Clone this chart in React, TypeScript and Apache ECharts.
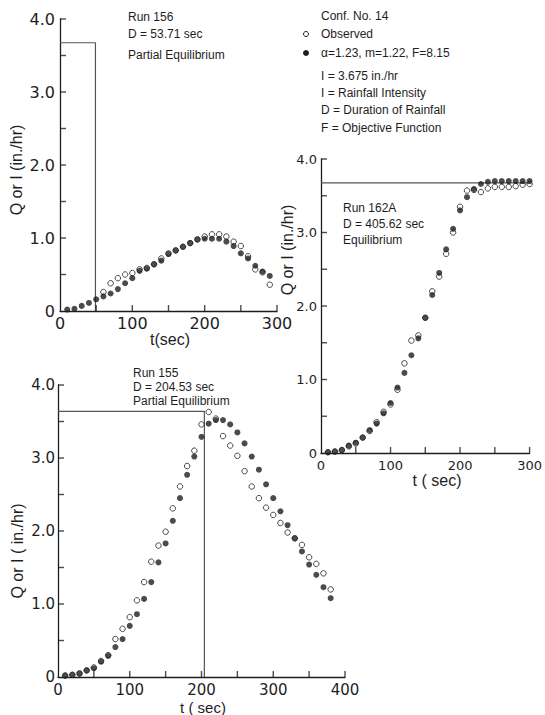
import React, { useEffect, useRef } from "react";
import * as echarts from "echarts";

// ---------- Data ----------
// Run 156 (top-left)
const run156Time = [10, 20, 30, 40, 50, 60, 70, 80, 90, 100, 110, 120, 130, 140, 150, 160, 170, 180, 190, 200, 210, 220, 230, 240, 250, 260, 270, 280, 290];
const run156Computed = [0.02, 0.03, 0.07, 0.11, 0.16, 0.2, 0.24, 0.3, 0.38, 0.45, 0.55, 0.58, 0.64, 0.69, 0.78, 0.83, 0.88, 0.93, 0.98, 0.99, 0.99, 0.99, 0.95, 0.89, 0.79, 0.72, 0.62, 0.54, 0.48];
const run156ObsTime = [60, 70, 80, 90, 100, 110, 120, 130, 140, 150, 160, 170, 180, 190, 200, 210, 220, 230, 240, 250, 260, 270, 280, 290];
const run156Observed = [0.26, 0.38, 0.45, 0.5, 0.52, 0.57, 0.59, 0.64, 0.72, 0.79, 0.83, 0.88, 0.93, 0.98, 1.02, 1.05, 1.05, 1.02, 0.95, 0.89, 0.75, 0.57, 0.53, 0.36];
const run156RainT = [0, 49, 49];
const run156RainI = [3.675, 3.675, 0];

// Run 162A (right)
const run162Time = [10, 20, 30, 40, 50, 60, 70, 80, 90, 100, 110, 120, 130, 140, 150, 160, 170, 180, 190, 200, 210, 220, 230, 240, 250, 260, 270, 280, 290, 300];
const run162Computed = [0.01, 0.02, 0.04, 0.1, 0.14, 0.21, 0.31, 0.4, 0.54, 0.68, 0.89, 1.09, 1.33, 1.56, 1.84, 2.15, 2.45, 2.77, 3.05, 3.3, 3.48, 3.59, 3.66, 3.69, 3.7, 3.7, 3.7, 3.7, 3.7, 3.7];
const run162Observed = [0.01, 0.02, 0.04, 0.09, 0.13, 0.21, 0.3, 0.42, 0.56, 0.66, 0.86, 1.22, 1.53, 1.6, 1.84, 2.2, 2.4, 2.71, 3.0, 3.35, 3.57, 3.58, 3.55, 3.6, 3.62, 3.62, 3.62, 3.63, 3.65, 3.66];
const run162RainT = [0, 300];
const run162RainI = [3.675, 3.675];

// Run 155 (bottom-left)
const run155Time = [10, 20, 30, 40, 50, 60, 70, 80, 90, 100, 110, 120, 130, 140, 150, 160, 170, 180, 190, 200, 210, 220, 230, 240, 250, 260, 270, 280, 290, 300, 310, 320, 330, 340, 350, 360, 370, 380];
const run155Computed = [0.02, 0.03, 0.045, 0.09, 0.12, 0.21, 0.29, 0.41, 0.52, 0.7, 0.86, 1.07, 1.3, 1.57, 1.83, 2.14, 2.45, 2.77, 3.02, 3.29, 3.47, 3.52, 3.52, 3.46, 3.35, 3.2, 3.02, 2.84, 2.64, 2.45, 2.27, 2.08, 1.9, 1.72, 1.54, 1.4, 1.23, 1.08];
const run155Observed = [0.02, 0.03, 0.05, 0.09, 0.13, 0.22, 0.3, 0.52, 0.66, 0.82, 1.05, 1.3, 1.58, 1.8, 1.99, 2.31, 2.61, 2.89, 3.1, 3.46, 3.63, 3.54, 3.3, 3.17, 3.03, 2.82, 2.61, 2.45, 2.32, 2.22, 2.11, 1.98, 1.9, 1.81, 1.64, 1.55, 1.42, 1.2];
const run155RainT = [0, 204, 204];
const run155RainI = [3.64, 3.64, 0];

// Axis ranges and tick positions
const xMax = [300, 300, 400];
const yTickLabels = ["0", "1.0", "2.0", "3.0", "4.0"];
const yTickValues = [0.5, 1, 1.5, 2, 2.5, 3, 3.5, 4];
const xTickValues300 = [50, 100, 150, 200, 250, 300];
const xTickValues400 = [50, 100, 150, 200, 250, 300, 350, 400];

const legendObserved = "Observed";
const legendComputed = "α=1.23, m=1.22, F=8.15";
const noteLines = [
  "Conf. No. 14",
  "I = 3.675 in./hr",
  "I = Rainfall Intensity",
  "D = Duration of Rainfall",
  "F = Objective Function",
];
const run156Notes = ["Run 156", "D = 53.71 sec", "Partial Equilibrium"];
const run162Notes = ["Run 162A", "D = 405.62 sec", "Equilibrium"];
const run155Notes = ["Run 155", "D = 204.53 sec", "Partial Equilibrium"];

// ---------- helpers ----------
const zip = (a: number[], b: number[]) => a.map((v, i) => [v, b[i]]);
const INK = "#1e1e1e";
const SANS = '"Liberation Sans", Arial, sans-serif';
const TICKFONT = '"DejaVu Sans", sans-serif';

export default function App() {
  const ref = useRef<HTMLDivElement>(null);

  useEffect(() => {
    document.body.style.margin = "0";
    if (!ref.current) return;
    const chart = echarts.init(ref.current, undefined, { renderer: "svg" });

    const grids = [
      { left: 60, top: 19, width: 217, height: 292 },
      { left: 321, top: 159, width: 218, height: 294 },
      { left: 58, top: 385, width: 287, height: 292 },
    ];
    const tickFont = [16, 13, 15];
    const yLabelMargin = [5, 4, 3];
    const xLabelMargin = [4, 6, 5];
    const xTicks = [xTickValues300, xTickValues300, xTickValues400];

    const xAxes = grids.map((_, i) => ({
      type: "value",
      gridIndex: i,
      min: 0,
      max: xMax[i],
      interval: 50,
      axisLine: { show: true, onZero: false, lineStyle: { color: INK, width: 1.3 } },
      axisTick: { show: false },
      axisLabel: {
        show: true,
        margin: xLabelMargin[i],
        color: INK,
        fontFamily: TICKFONT,
        fontSize: tickFont[i],
        formatter: (v: number) => (v % 100 === 0 ? String(v) : ""),
      },
      splitLine: { show: false },
    }));

    const yAxes = grids.map((_, i) => ({
      type: "value",
      gridIndex: i,
      min: 0,
      max: 4,
      interval: 0.5,
      axisLine: { show: true, onZero: false, lineStyle: { color: INK, width: 1.3 } },
      axisTick: { show: false },
      axisLabel: {
        show: true,
        margin: yLabelMargin[i],
        color: INK,
        fontFamily: TICKFONT,
        fontSize: tickFont[i],
        formatter: (v: number) => (Math.abs(v - Math.round(v)) < 1e-9 ? yTickLabels[Math.round(v)] : ""),
      },
      splitLine: { show: false },
    }));

    const panels = [
      { rain: zip(run156RainT, run156RainI), comp: zip(run156Time, run156Computed), obs: zip(run156ObsTime, run156Observed) },
      { rain: zip(run162RainT, run162RainI), comp: zip(run162Time, run162Computed), obs: zip(run162Time, run162Observed) },
      { rain: zip(run155RainT, run155RainI), comp: zip(run155Time, run155Computed), obs: zip(run155Time, run155Observed) },
    ];

    const series: any[] = [];
    panels.forEach((p, i) => {
      // inward tick marks placed on the axes through the axis scales
      series.push({
        type: "scatter",
        xAxisIndex: i,
        yAxisIndex: i,
        data: yTickValues.map((v) => [0, v]),
        symbol: "rect",
        symbolSize: [6, 1.4],
        symbolOffset: [3, 0],
        itemStyle: { color: INK },
        silent: true,
        clip: false,
        z: 5,
      });
      series.push({
        type: "scatter",
        xAxisIndex: i,
        yAxisIndex: i,
        data: xTicks[i].map((v) => [v, 0]),
        symbol: "rect",
        symbolSize: [1.4, 6],
        symbolOffset: [0, -3],
        itemStyle: { color: INK },
        silent: true,
        clip: false,
        z: 5,
      });
      series.push({
        type: "line",
        xAxisIndex: i,
        yAxisIndex: i,
        data: p.rain,
        symbol: "none",
        silent: true,
        lineStyle: { color: "#555", width: 1.2 },
        z: 1,
      });
      series.push({
        type: "scatter",
        name: legendComputed,
        xAxisIndex: i,
        yAxisIndex: i,
        data: p.comp,
        symbol: "circle",
        symbolSize: 6,
        itemStyle: { color: INK },
        z: 3,
      });
      series.push({
        type: "scatter",
        name: legendObserved,
        xAxisIndex: i,
        yAxisIndex: i,
        data: p.obs,
        symbol: "circle",
        symbolSize: 5.5,
        itemStyle: { color: "rgba(255,255,255,0)", borderColor: INK, borderWidth: 1 },
        z: 4,
      });
    });

    const txt = (text: string, x: number, y: number, size: number, extra: any = {}) => ({
      type: "text",
      x,
      y,
      silent: true,
      ...extra,
      style: {
        text,
        fill: INK,
        font: `${size}px ${SANS}`,
        align: extra.align || "left",
        verticalAlign: "middle",
      },
    });

    const graphic: any[] = [
      // legend/notes block
      txt(noteLines[0], 321, 16, 12),
      { type: "circle", shape: { cx: 306, cy: 34, r: 2.5 }, style: { fill: "#fff", stroke: INK, lineWidth: 1 }, silent: true },
      txt(legendObserved, 321, 34, 12),
      { type: "circle", shape: { cx: 306, cy: 53, r: 3 }, style: { fill: INK }, silent: true },
      txt(legendComputed, 321, 53, 12),
      txt(noteLines[1], 321, 76, 12),
      txt(noteLines[2], 321, 93, 12),
      txt(noteLines[3], 321, 110, 12),
      txt(noteLines[4], 321, 128, 12),
      // run annotations
      txt(run156Notes[0], 128, 17, 12),
      txt(run156Notes[1], 128, 34, 12),
      txt(run156Notes[2], 128, 55, 12),
      txt(run162Notes[0], 343, 208, 12),
      txt(run162Notes[1], 343, 224, 12),
      txt(run162Notes[2], 343, 240, 12),
      txt(run155Notes[0], 133, 373, 12),
      txt(run155Notes[1], 133, 387, 12),
      txt(run155Notes[2], 133, 401, 12),
      // axis titles
      txt("Q or I (in./hr)", 16, 170, 16, { rotation: Math.PI / 2, align: "center" }),
      txt("Q or I (in./hr)", 287, 250, 16, { rotation: Math.PI / 2, align: "center" }),
      txt("Q or I ( in./hr)", 17, 551, 16, { rotation: Math.PI / 2, align: "center" }),
      txt("t(sec)", 170, 339, 16, { align: "center" }),
      txt("t ( sec)", 437, 480, 16, { align: "center" }),
      txt("t ( sec)", 203, 707, 15, { align: "center" }),
    ];

    chart.setOption({
      animation: false,
      backgroundColor: "#fff",
      grid: grids,
      xAxis: xAxes,
      yAxis: yAxes,
      series,
      graphic,
    });

    return () => chart.dispose();
  }, []);

  return <div ref={ref} style={{ width: 545, height: 715 }} />;
}
